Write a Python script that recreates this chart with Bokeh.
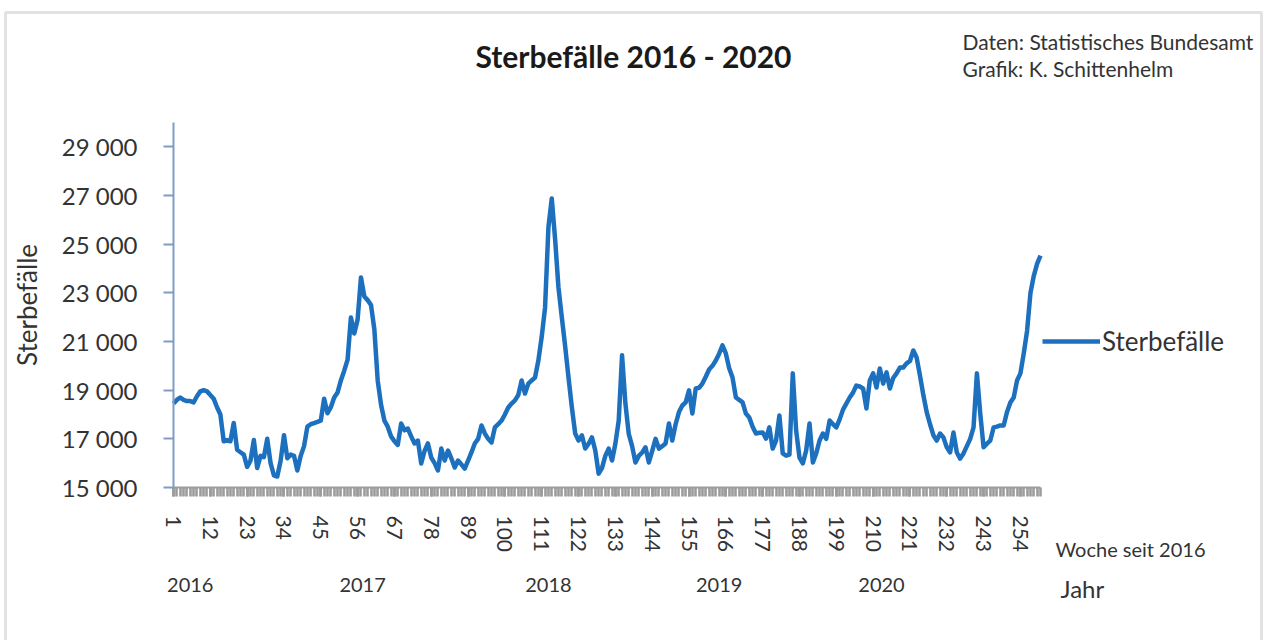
from bokeh.plotting import figure
from bokeh.models import (Range1d, FixedTicker, LinearAxis, Legend, Label,
                          ColumnDataSource, BoxAnnotation)
from bokeh.embed import file_html
from bokeh.resources import INLINE

# ---------------- data ----------------
deaths = [
    # 2016 (weeks 1-52)
    18450, 18600, 18700, 18600, 18550, 18550, 18500, 18750, 18950, 19000,
    18950, 18800, 18650, 18300, 18000, 16900, 16950, 16900, 17650, 16550,
    16450, 16350, 15850, 16100, 16950, 15800, 16300, 16250, 17000, 16000,
    15500, 15450, 16100, 17150, 16200, 16350, 16300, 15700, 16300, 16700,
    17500, 17600, 17650, 17700, 17750, 18650, 18050, 18300, 18700, 18900,
    19400, 19800,
    # 2017 (53-104)
    20250, 21990, 21330, 21900, 23630, 22850, 22700, 22500, 21500, 19400,
    18400, 17750, 17500, 17100, 16900, 16750, 17630, 17350, 17420, 17100,
    16810, 16930, 15990, 16500, 16810, 16230, 16000, 15700, 16600, 16110,
    16520, 16200, 15820, 16110, 15950, 15780, 16100, 16440, 16810, 17000,
    17550, 17220, 17000, 16850, 17470, 17600, 17750, 18000, 18290, 18450,
    18580, 18800,
    # 2018 (105-156)
    19400, 18860, 19270, 19400, 19520, 20220, 21200, 22400, 25690, 26880,
    25200, 23220, 22000, 20800, 19520, 18300, 17220, 16930, 17140, 16600,
    16800, 17060, 16520, 15570, 15800, 16300, 16600, 16110, 16800, 17750,
    20430, 18450, 17200, 16700, 16030, 16300, 16440, 16650, 16030, 16500,
    17000, 16600, 16700, 16810, 17630, 16930, 17600, 18100, 18370, 18500,
    18990, 18040,
    # 2019 (157-208)
    19070, 19100, 19270, 19550, 19850, 20000, 20220, 20500, 20840, 20510,
    19900, 19520, 18700, 18600, 18500, 18040, 17880, 17500, 17220, 17250,
    17260, 17010, 17470, 16600, 16930, 17960, 16400, 16310, 16350, 19690,
    17340, 16230, 15990, 16520, 17630, 16030, 16400, 16930, 17220, 17000,
    17750, 17600, 17470, 17800, 18200, 18450, 18700, 18900, 19190, 19150,
    19070, 18250,
    # 2020 (209-260)
    19400, 19690, 19110, 19890, 19270, 19730, 19070, 19500, 19690, 19930,
    19930, 20100, 20200, 20630, 20340, 19600, 18800, 18100, 17600, 17150,
    16930, 17220, 17060, 16650, 16440, 17260, 16440, 16190, 16400, 16700,
    17000, 17470, 19690, 18040, 16650, 16800, 16930, 17470, 17500, 17550,
    17550, 18100, 18490, 18700, 19400, 19690, 20510, 21450, 23000, 23700,
    24200, 24530,
]
weeks = list(range(1, len(deaths) + 1))

week_tick_labels = [1, 12, 23, 34, 45, 56, 67, 78, 89, 100, 111, 122, 133,
                    144, 155, 166, 177, 188, 199, 210, 221, 232, 243, 254]
y_ticks = [15000, 17000, 19000, 21000, 23000, 25000, 27000, 29000]
y_tick_labels = ["15 000", "17 000", "19 000", "21 000", "23 000", "25 000",
                 "27 000", "29 000"]
y_axis_max = 30000
years = ["2016", "2017", "2018", "2019", "2020"]
year_label_pos = [6, 57.5, 113, 164, 212.5]

title_text = "Sterbefälle 2016 - 2020"
credit_lines = ["Daten: Statistisches Bundesamt", "Grafik: K. Schittenhelm"]
series_name = "Sterbefälle"
x_caption = "Woche seit 2016"
year_caption = "Jahr"

# ---------------- layout (pixel geometry) ----------------
FONT = "Lato"
TXT = "#333333"
LINE = "#1d70be"
GRAY = "#9c9c9c"
W, H = 1264, 640
X0, X1 = 173, 1040          # px of first / last week
Y0, Y1 = 487, 122           # px of 15000 / 30000
n = len(deaths)
sx = (X1 - X0) / (n - 1)                    # px per week
sy = (y_axis_max - y_ticks[0]) / (Y0 - Y1)  # value per px

x_start = 1 - X0 / sx
x_end = 1 + (W - X0) / sx
y_start = y_ticks[0] - (H - Y0) * sy
y_end = y_ticks[0] + Y0 * sy

def dx(px):
    return 1 + (px - X0) / sx

def dy(py):
    return y_ticks[0] + (Y0 - py) * sy

p = figure(width=W, height=H, frame_width=W, frame_height=H,
           min_border=0, min_border_left=0, min_border_right=0,
           min_border_top=0, min_border_bottom=0,
           x_range=Range1d(x_start, x_end), y_range=Range1d(y_start, y_end),
           output_backend="svg", toolbar_location=None, title=None)
p.border_fill_color = "white"
p.background_fill_color = "white"
p.outline_line_color = None
p.xgrid.visible = False
p.ygrid.visible = False

# outer chart border
p.add_layout(BoxAnnotation(left=dx(5), right=dx(W - 3), top=dy(12), bottom=dy(H + 60),
                           fill_alpha=0, line_color="#a0a0a0", line_width=3))

src = ColumnDataSource(data=dict(week=weeks, deaths=deaths))
r = p.line("week", "deaths", source=src, line_color=LINE, line_width=4.5,
           line_join="round")

# y axis
ya = p.yaxis[0]
ya.fixed_location = 1
ya.bounds = (y_ticks[0], y_axis_max)
ya.ticker = FixedTicker(ticks=y_ticks)
ya.major_label_overrides = {t: l for t, l in zip(y_ticks, y_tick_labels)}
ya.minor_tick_line_color = None
ya.major_tick_out = 10
ya.major_tick_in = 0
ya.axis_line_color = "#7d9cc6"
ya.axis_line_width = 2
ya.major_tick_line_color = "#7d9cc6"
ya.major_tick_line_width = 2
ya.major_label_text_font = FONT
ya.major_label_text_font_size = "24px"
ya.major_label_text_color = TXT
ya.major_label_standoff = 26
ya.axis_label = series_name
ya.axis_label_text_font = FONT
ya.axis_label_text_font_style = "normal"
ya.axis_label_text_font_size = "26px"
ya.axis_label_text_color = TXT
ya.axis_label_standoff = 16

# x axis (weeks)
xa = p.xaxis[0]
xa.fixed_location = y_ticks[0]
xa.bounds = (1, n)
xa.ticker = FixedTicker(ticks=week_tick_labels, minor_ticks=weeks)
xa.axis_line_color = GRAY
xa.axis_line_width = 2
xa.major_tick_line_color = GRAY
xa.major_tick_line_width = 2.6
xa.major_tick_out = 9
xa.major_tick_in = 0
xa.minor_tick_line_color = GRAY
xa.minor_tick_line_width = 2.6
xa.minor_tick_out = 9
xa.minor_tick_in = 0
xa.major_label_orientation = "vertical"
xa.major_label_text_font = FONT
xa.major_label_text_font_size = "21px"
xa.major_label_text_color = TXT
xa.major_label_standoff = 19

# second axis below: years
ax2 = LinearAxis(ticker=FixedTicker(ticks=year_label_pos),
                 major_label_overrides={t: y for t, y in zip(year_label_pos, years)},
                 fixed_location=y_ticks[0])
ax2.axis_line_color = None
ax2.major_tick_line_color = None
ax2.minor_tick_line_color = None
ax2.major_tick_out = 0
ax2.major_tick_in = 0
ax2.major_label_text_font = FONT
ax2.major_label_text_font_size = "20px"
ax2.major_label_text_color = TXT
ax2.major_label_standoff = 90
p.add_layout(ax2, "below")

# legend
legend = Legend(items=[(series_name, [r])], location=(1042, H - 357))
legend.border_line_color = None
legend.background_fill_alpha = 0
legend.padding = 0
legend.margin = 0
legend.glyph_width = 58
legend.glyph_height = 28
legend.label_standoff = 2
legend.label_text_font = FONT
legend.label_text_font_size = "26px"
legend.label_text_color = TXT
p.add_layout(legend, "center")

# free texts
p.add_layout(Label(x=dx(633), y=dy(55), text=title_text, text_align="center",
                   text_baseline="middle", text_font=FONT, text_font_style="bold",
                   text_font_size="30px", text_color="#1a1a1a"))
for i, line in enumerate(credit_lines):
    p.add_layout(Label(x=dx(962), y=dy(41 + 27 * i), text=line, text_align="left",
                       text_baseline="middle", text_font=FONT,
                       text_font_size="21px", text_color=TXT))
p.add_layout(Label(x=dx(1055), y=dy(548), text=x_caption, text_align="left",
                   text_baseline="middle", text_font=FONT, text_font_size="20px",
                   text_color=TXT))
p.add_layout(Label(x=dx(1060), y=dy(588), text=year_caption, text_align="left",
                   text_baseline="middle", text_font=FONT, text_font_size="24px",
                   text_color=TXT))

open("out.html", "w").write(file_html(p, INLINE))
